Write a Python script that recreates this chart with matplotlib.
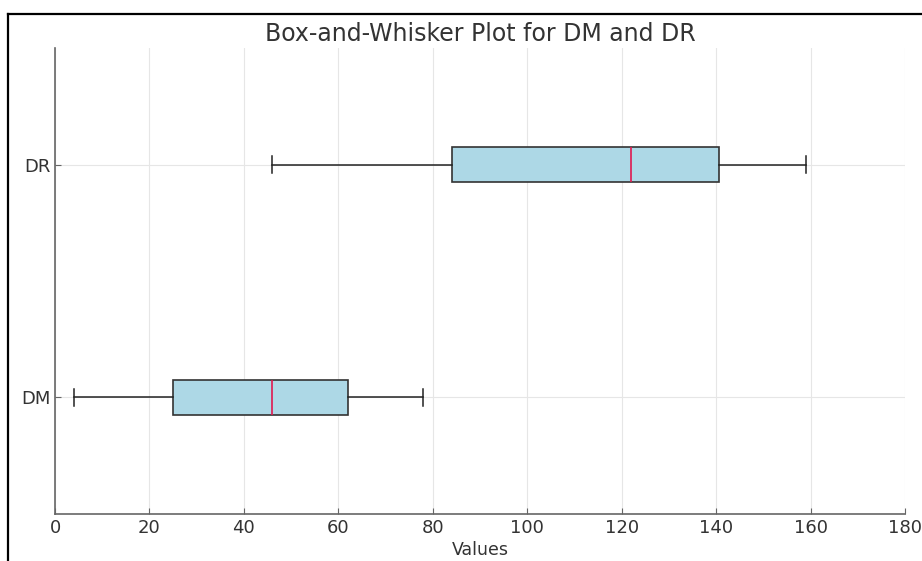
import matplotlib.pyplot as plt
from matplotlib.lines import Line2D

# box statistics
labels = ['DM', 'DR']
whislo = [4, 46]
q1 = [25, 84]
med = [46, 122]
q3 = [62, 140.5]
whishi = [78, 159]

stats = []
for i in range(len(labels)):
    stats.append({'label': labels[i], 'whislo': whislo[i], 'q1': q1[i],
                  'med': med[i], 'q3': q3[i], 'whishi': whishi[i], 'fliers': []})

fig = plt.figure(figsize=(9.22, 5.61), dpi=100)
ax = fig.add_axes([0.0597, 0.0838, 0.9219, 0.8306])

ax.bxp(stats, vert=False, widths=0.15, patch_artist=True,
       boxprops=dict(facecolor='#ADD8E6', edgecolor='#333333', linewidth=1.2),
       medianprops=dict(color='#E0194F', linewidth=1.2),
       whiskerprops=dict(color='#222222', linewidth=1.1),
       capprops=dict(color='#222222', linewidth=1.1))

ax.set_xlim(0, 180)
ax.set_ylim(0.5, 2.5)
ax.set_xticks(range(0, 181, 20))
ax.grid(True, color='#e6e6e6', linewidth=0.8)
ax.set_axisbelow(True)
for s in ['top', 'right']:
    ax.spines[s].set_visible(False)
for s in ['left', 'bottom']:
    ax.spines[s].set_color('#666666')
    ax.spines[s].set_linewidth(1.2)
ax.tick_params(direction='in', colors='#666666', labelcolor='#333333', labelsize=13, length=4, pad=3.5)
ax.set_xlabel('Values', fontsize=12.5, color='#333333', labelpad=3)
ax.set_title('Box-and-Whisker Plot for DM and DR', fontsize=17, color='#333333', pad=5)

# screenshot frame on the left and top
fig.add_artist(Line2D([8 / 922, 8 / 922], [0, 1 - 13.5 / 561], transform=fig.transFigure,
                      color='black', linewidth=1.6))
fig.add_artist(Line2D([8 / 922, 1], [1 - 13.5 / 561, 1 - 13.5 / 561], transform=fig.transFigure,
                      color='black', linewidth=1.6))

fig.savefig('out.png', dpi=100)
